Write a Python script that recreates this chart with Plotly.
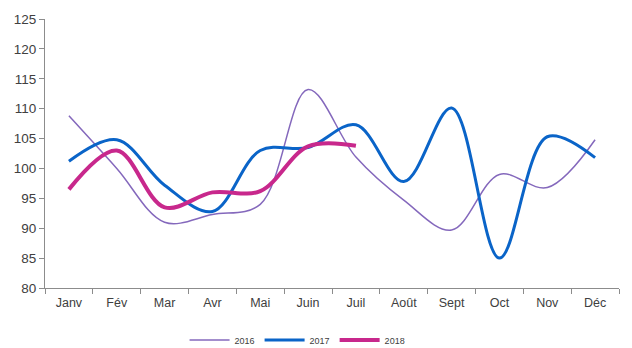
import plotly.graph_objects as go

months = ["Janv", "Fév", "Mar", "Avr", "Mai", "Juin", "Juil", "Août", "Sept", "Oct", "Nov", "Déc"]
s2016 = [108.8, 100.0, 91.0, 92.3, 94.0, 113.2, 101.9, 94.7, 89.7, 99.0, 96.8, 104.8]
s2017 = [101.2, 104.8, 97.2, 92.8, 103.0, 103.5, 107.3, 97.8, 110.1, 85.0, 105.3, 101.8]
s2018 = [96.5, 103.0, 93.5, 96.0, 96.2, 103.7, 103.8]

fig = go.Figure()
fig.add_trace(go.Scatter(x=months, y=s2016, name="2016", mode="lines",
                         line=dict(color="#8468BC", width=1.5, shape="spline", smoothing=1)))
fig.add_trace(go.Scatter(x=months, y=s2017, name="2017", mode="lines",
                         line=dict(color="#0A64C8", width=3, shape="spline", smoothing=1)))
fig.add_trace(go.Scatter(x=months[:len(s2018)], y=s2018, name="2018", mode="lines",
                         line=dict(color="#C8288C", width=4, shape="spline", smoothing=1)))

fig.update_layout(
    width=632, height=348,
    margin=dict(l=45, r=13, t=19, b=60, autoexpand=False),
    paper_bgcolor="white", plot_bgcolor="white",
    font=dict(family="Liberation Sans, Arial", color="#404040", size=13),
    showlegend=True,
    legend=dict(orientation="h", x=0.44, xanchor="center", y=8/348, yref="container",
                yanchor="middle",
                font=dict(size=9, color="#404040"), itemwidth=40, tracegroupgap=0),
    xaxis=dict(type="category", showgrid=False, showline=True, linecolor="#8c8c8c", linewidth=1,
               ticks="outside", tickson="boundaries", ticklen=5, tickcolor="#8c8c8c",
               tickfont=dict(size=12.5), range=[-0.5, 11.5], ticklabelstandoff=3),
    yaxis=dict(range=[80, 125], dtick=5, showgrid=False, showline=True, linecolor="#8c8c8c",
               linewidth=1, ticks="outside", ticklen=5, tickcolor="#8c8c8c",
               tickfont=dict(size=13.5), zeroline=False),
)
fig.write_html("out.html")
